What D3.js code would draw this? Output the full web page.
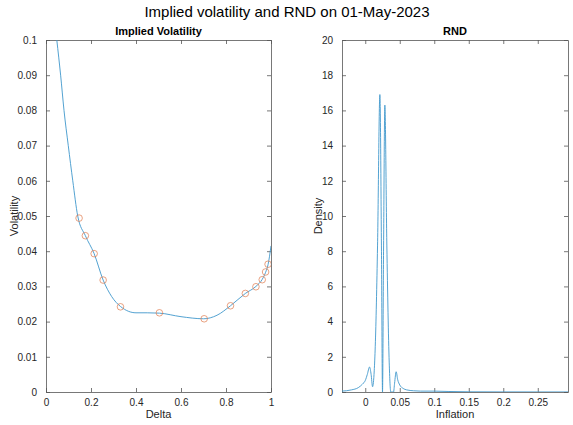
<!DOCTYPE html>
<html>
<head>
<meta charset="utf-8">
<script src="https://cdn.jsdelivr.net/npm/d3@7"></script>
<style>
  body { margin: 0; background: #fff; }
  svg { font-family: "Liberation Sans", Arial, sans-serif; }
  .axis path, .axis line { stroke: #555; stroke-width: 0.8; }
  .axis text { fill: #262626; font-size: 10px; }
</style>
</head>
<body>
<div id="chart"></div>
<script>
// implied vol smile (fitted curve)
var ivDelta = [0.048, 0.065, 0.080, 0.099, 0.119, 0.141, 0.175, 0.214, 0.254, 0.292, 0.331, 0.40, 0.45, 0.504, 0.60, 0.70, 0.76, 0.82, 0.886, 0.933, 0.961, 0.976, 0.987, 1.0];
var ivVol   = [0.100, 0.090, 0.080, 0.070, 0.060, 0.050, 0.0444, 0.0393, 0.0318, 0.0271, 0.0243, 0.0225, 0.0225, 0.0224, 0.0214, 0.0208, 0.0218, 0.0245, 0.0280, 0.0300, 0.0320, 0.0340, 0.0362, 0.0415];
// market quotes (circles)
var mktDelta = [0.147, 0.175, 0.214, 0.254, 0.331, 0.504, 0.703, 0.820, 0.886, 0.933, 0.961, 0.976, 0.987];
var mktVol   = [0.0494, 0.0444, 0.0393, 0.0318, 0.0242, 0.0225, 0.0208, 0.0245, 0.0280, 0.0299, 0.0319, 0.0341, 0.0363];
// risk neutral density
var rndX = [-0.034, -0.02, -0.01, -0.004, 0.0, 0.003, 0.0062, 0.0085, 0.0106, 0.013, 0.0145, 0.0178, 0.0212, 0.0235, 0.025, 0.0265, 0.0284, 0.0313, 0.0347, 0.037, 0.041, 0.0425, 0.0448, 0.047, 0.05, 0.055, 0.06, 0.07, 0.08, 0.1, 0.12, 0.15, 0.2, 0.25, 0.294];
var rndY = [0.05, 0.12, 0.25, 0.45, 0.65, 1.0, 1.42, 1.0, 0.3, 1.2, 2.6, 8.3, 16.9, 8.0, 0, 8.0, 16.3, 8.3, 1.7, 0, 0, 0.5, 1.15, 0.7, 0.4, 0.2, 0.12, 0.07, 0.05, 0.05, 0.03, 0.01, 0.005, 0.003, 0.002];

var ivXTicks = [0, 0.2, 0.4, 0.6, 0.8, 1];
var ivYTicks = [0, 0.01, 0.02, 0.03, 0.04, 0.05, 0.06, 0.07, 0.08, 0.09, 0.1];
var rndXTicks = [0, 0.05, 0.1, 0.15, 0.2, 0.25];
var rndYTicks = [0, 2, 4, 6, 8, 10, 12, 14, 16, 18, 20];

var W = 573, H = 425;
var lineColor = "#3f97cc", markColor = "#e07a4c";

var svg = d3.select("#chart").append("svg")
  .attr("width", W).attr("height", H);

svg.append("text")
  .attr("x", 287).attr("y", 17)
  .attr("text-anchor", "middle")
  .style("font-size", "15px")
  .style("fill", "#000")
  .text("Implied volatility and RND on 01-May-2023");

function panel(geom, xDom, yDom, xTicks, yTicks, title, xLabel, yLabel) {
  var g = svg.append("g")
    .attr("transform", "translate(" + geom.L + "," + geom.T + ")");
  var x = d3.scaleLinear().domain(xDom).range([0, geom.W]);
  var y = d3.scaleLinear().domain(yDom).range([geom.H, 0]);
  var fmt = function(d) { return String(+d.toFixed(4)); };

  g.append("g").attr("class", "axis")
    .attr("transform", "translate(0," + geom.H + ")")
    .call(d3.axisBottom(x).tickValues(xTicks).tickFormat(fmt).tickSizeInner(-4).tickSizeOuter(0).tickPadding(7));
  g.append("g").attr("class", "axis")
    .call(d3.axisLeft(y).tickValues(yTicks).tickFormat(fmt).tickSizeInner(-4).tickSizeOuter(0).tickPadding(9));
  g.append("g").attr("class", "axis")
    .call(d3.axisTop(x).tickValues(xTicks).tickFormat("").tickSizeInner(-4).tickSizeOuter(0));
  g.append("g").attr("class", "axis")
    .attr("transform", "translate(" + geom.W + ",0)")
    .call(d3.axisRight(y).tickValues(yTicks).tickFormat("").tickSizeInner(-4).tickSizeOuter(0));

  g.append("text")
    .attr("x", geom.W / 2).attr("y", -5)
    .attr("text-anchor", "middle")
    .style("font-size", "11px").style("font-weight", "bold").style("fill", "#000")
    .text(title);
  g.append("text")
    .attr("x", geom.W / 2).attr("y", geom.H + 26)
    .attr("text-anchor", "middle")
    .style("font-size", "11px").style("fill", "#262626")
    .text(xLabel);
  g.append("text")
    .attr("transform", "translate(" + geom.yLabelX + "," + (geom.H / 2) + ") rotate(-90)")
    .attr("text-anchor", "middle")
    .style("font-size", "11px").style("fill", "#262626")
    .text(yLabel);

  var clipId = "clip" + geom.L;
  g.append("clipPath").attr("id", clipId)
    .append("rect").attr("width", geom.W).attr("height", geom.H);
  var plot = g.append("g").attr("clip-path", "url(#" + clipId + ")");
  return {g: plot, x: x, y: y};
}

// left: implied volatility
var p1 = panel({L: 46, T: 40, W: 225, H: 352, yLabelX: -28},
  [0, 1], [0, 0.1], ivXTicks, ivYTicks, "Implied Volatility", "Delta", "Volatility");

var ivLine = d3.line()
  .x(function(d, i) { return p1.x(ivDelta[i]); })
  .y(function(d, i) { return p1.y(ivVol[i]); })
  .curve(d3.curveMonotoneX);
p1.g.append("path")
  .datum(ivDelta)
  .attr("d", ivLine)
  .attr("fill", "none")
  .attr("stroke", lineColor)
  .attr("stroke-width", 0.9);

p1.g.selectAll(".mkt").data(mktDelta)
  .enter().append("circle")
  .attr("class", "mkt")
  .attr("cx", function(d) { return p1.x(d); })
  .attr("cy", function(d, i) { return p1.y(mktVol[i]); })
  .attr("r", 3.3)
  .attr("fill", "none")
  .attr("stroke", markColor)
  .attr("stroke-width", 0.7);

// right: RND
var p2 = panel({L: 342, T: 40, W: 226, H: 352, yLabelX: -20},
  [-0.0337, 0.2938], [0, 20], rndXTicks, rndYTicks, "RND", "Inflation", "Density");

var rndLine = d3.line()
  .x(function(d, i) { return p2.x(rndX[i]); })
  .y(function(d, i) { return p2.y(rndY[i]); })
  .curve(d3.curveMonotoneX);
p2.g.append("path")
  .datum(rndX)
  .attr("d", rndLine)
  .attr("fill", "none")
  .attr("stroke", lineColor)
  .attr("stroke-width", 0.9);
</script>
</body>
</html>
